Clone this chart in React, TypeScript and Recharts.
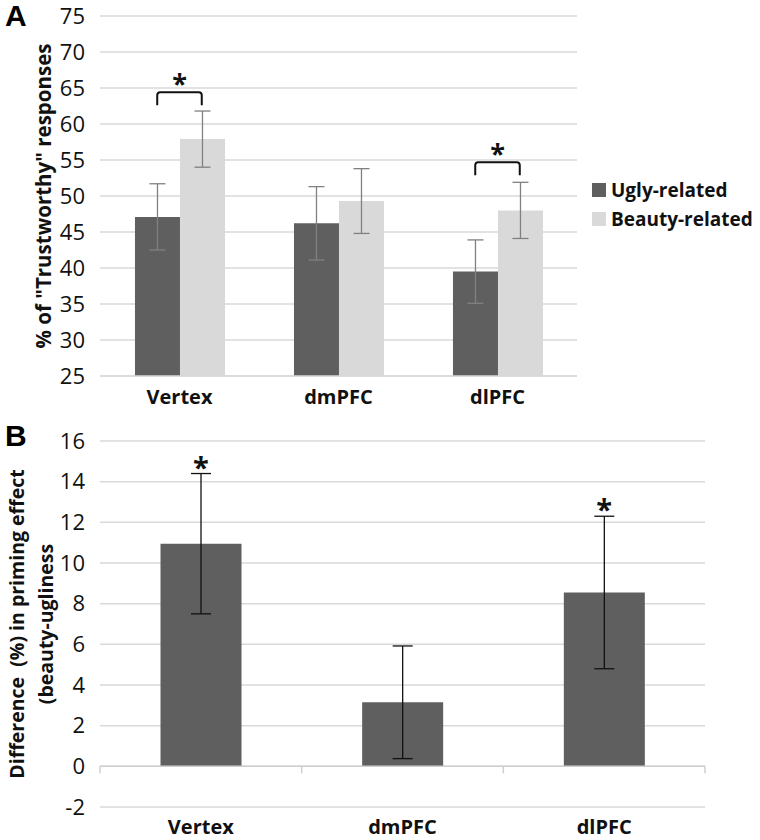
import React from 'react';
import {
  BarChart,
  Bar,
  XAxis,
  YAxis,
  CartesianGrid,
  ErrorBar,
  ReferenceDot,
  ReferenceLine,
} from 'recharts';

// values
const categories = ['Vertex', 'dmPFC', 'dlPFC'];
const uglyValues = [47.1, 46.2, 39.5];
const uglyErrors = [4.6, 5.1, 4.4];
const beautyValues = [57.9, 49.3, 48.0];
const beautyErrors = [3.9, 4.5, 3.9];
const diffValues = [10.95, 3.15, 8.55];
const diffErrors = [3.45, 2.77, 3.75];

const ticksA = [25, 30, 35, 40, 45, 50, 55, 60, 65, 70, 75];
const ticksB = [-2, 0, 2, 4, 6, 8, 10, 12, 14, 16];

const seriesNames = ['Ugly-related', 'Beauty-related'];

// significance marks
const bracketCats = ['Vertex', 'dlPFC'];
const bracketTops = [64.4, 54.7];
const starCats = ['Vertex', 'dlPFC'];

const DARK = '#5f5f5f';
const LIGHT = '#d9d9d9';
const GRID = '#d9d9d9';
const FONT = '"Open Sans", sans-serif';

const W = 760;
const H = 420;
const marginA = { top: 16, right: 183, left: 40, bottom: 14 };
const marginB = { top: 21, right: 55, left: 40, bottom: 3 };
const GAP_A = 0.22;
const bandA = (W - marginA.left - 60 - marginA.right) / categories.length;
const barWA = (bandA * (1 - 2 * GAP_A)) / 2;

const dataA = categories.map((c, i) => ({
  name: c,
  ugly: uglyValues[i],
  uglyErr: uglyErrors[i],
  beauty: beautyValues[i],
  beautyErr: beautyErrors[i],
}));

const dataB = categories.map((c, i) => ({
  name: c,
  diff: diffValues[i],
  diffErr: diffErrors[i],
}));

const tickStyle = { fontFamily: FONT, fontSize: 22, fill: '#111' };
const catTickStyle = { fontFamily: FONT, fontSize: 20, fontWeight: 700, fill: '#111' };

function yTitle(lines: string[], xs: number[], size: number) {
  return (props: any) => {
    const vb = props.viewBox || {};
    const cy = vb.y + vb.height / 2;
    return (
      <g>
        {lines.map((t, i) => (
          <text
            key={t}
            x={xs[i]}
            y={cy}
            transform={`rotate(-90 ${xs[i]} ${cy})`}
            textAnchor="middle"
            dominantBaseline="central"
            fontFamily={FONT}
            fontSize={size}
            fontWeight={700}
            fill="#111"
            style={{ whiteSpace: 'pre' }}
          >
            {t}
          </text>
        ))}
      </g>
    );
  };
}

function Bracket(props: any) {
  const { cx, cy } = props;
  const x1 = cx - barWA / 2;
  const x2 = cx + barWA / 2;
  const drop = 13;
  return (
    <g>
      <path
        d={`M${x1},${cy + drop} L${x1},${cy + 3} Q${x1},${cy} ${x1 + 3},${cy} L${x2 - 3},${cy} Q${x2},${cy} ${x2},${cy + 3} L${x2},${cy + drop}`}
        fill="none"
        stroke="#111"
        strokeWidth={2}
      />
      <text x={cx} y={cy + 1} textAnchor="middle" fontFamily={FONT} fontSize={27} fontWeight={700} fill="#111">
        *
      </text>
    </g>
  );
}

function Star(props: any) {
  const { cx, cy } = props;
  return (
    <text x={cx} y={cy + 4} textAnchor="middle" fontFamily={FONT} fontSize={29} fontWeight={700} fill="#111">
      *
    </text>
  );
}

function ZeroAxis(props: any) {
  const { x1, x2, y1 } = props;
  const marks = categories.map((_, i) => x1 + (i * (x2 - x1)) / categories.length).concat([x2]);
  return (
    <g>
      <line x1={x1} x2={x2} y1={y1} y2={y1} stroke="#cfcfcf" strokeWidth={1.5} />
      {marks.map((x, i) => (
        <line key={i} x1={x} x2={x} y1={y1} y2={y1 + 7} stroke="#cfcfcf" strokeWidth={1.5} />
      ))}
    </g>
  );
}

function LegendA() {
  const colors = [DARK, LIGHT];
  return (
    <div style={{ position: 'absolute', left: 592, top: 175, fontFamily: FONT }}>
      {seriesNames.map((label, i) => (
        <div key={label} style={{ display: 'flex', alignItems: 'center', height: 29 }}>
          <span style={{ width: 14, height: 14, background: colors[i], marginRight: 5, display: 'inline-block' }} />
          <span style={{ fontSize: 19, fontWeight: 700, color: '#111' }}>{label}</span>
        </div>
      ))}
    </div>
  );
}

const panelLetter = {
  position: 'absolute' as const,
  left: 5,
  fontFamily: 'Arial, "Liberation Sans", sans-serif',
  fontWeight: 700,
  fontSize: 30,
  lineHeight: 1,
};

export default function App() {
  return (
    <div style={{ position: 'absolute', left: 0, top: 0, width: W, height: 840, background: '#fff' }}>
      <div style={{ position: 'absolute', left: 0, top: 0 }}>
        <BarChart width={W} height={H} data={dataA} margin={marginA} barGap={0} barCategoryGap={`${GAP_A * 100}%`}>
          <CartesianGrid vertical={false} stroke={GRID} strokeWidth={1.5} />
          <XAxis
            dataKey="name"
            height={30}
            axisLine={{ stroke: GRID, strokeWidth: 1.5 }}
            tickLine={false}
            tickSize={0}
            tickMargin={14}
            tick={catTickStyle}
          />
          <YAxis
            width={60}
            domain={[25, 75]}
            ticks={ticksA}
            interval={0}
            axisLine={false}
            tickLine={false}
            tickSize={0}
            tickMargin={15}
            tick={tickStyle}
            label={yTitle(['% of "Trustworthy" responses'], [43], 20.5)}
          />
          <Bar dataKey="ugly" name={seriesNames[0]} fill={DARK} isAnimationActive={false}>
            <ErrorBar dataKey="uglyErr" width={8} stroke="#808080" strokeWidth={1.3} />
          </Bar>
          <Bar dataKey="beauty" name={seriesNames[1]} fill={LIGHT} isAnimationActive={false}>
            <ErrorBar dataKey="beautyErr" width={8} stroke="#808080" strokeWidth={1.3} />
          </Bar>
          {bracketCats.map((c, i) => (
            <ReferenceDot key={c} x={c} y={bracketTops[i]} r={0} shape={(p: any) => <Bracket {...p} />} />
          ))}
        </BarChart>
      </div>
      <LegendA />

      <div style={{ position: 'absolute', left: 0, top: 420 }}>
        <BarChart width={W} height={H} data={dataB} margin={marginB} barCategoryGap="30%">
          <CartesianGrid vertical={false} stroke={GRID} strokeWidth={1.5} />
          <XAxis
            dataKey="name"
            height={30}
            axisLine={false}
            tickLine={false}
            tickSize={0}
            tickMargin={13}
            tick={catTickStyle}
          />
          <YAxis
            width={60}
            domain={[-2, 16]}
            ticks={ticksB}
            interval={0}
            axisLine={false}
            tickLine={false}
            tickSize={0}
            tickMargin={15}
            tick={tickStyle}
            label={yTitle(['Difference  (%) in priming effect', '(beauty-ugliness'], [16, 45], 19.5)}
          />
          <Bar dataKey="diff" fill={DARK} isAnimationActive={false}>
            <ErrorBar dataKey="diffErr" width={10} stroke="#111" strokeWidth={1.3} />
          </Bar>
          <ReferenceLine y={0} shape={(p: any) => <ZeroAxis {...p} />} />
          {starCats.map((c) => {
            const i = categories.indexOf(c);
            return (
              <ReferenceDot key={c} x={c} y={diffValues[i] + diffErrors[i]} r={0} shape={(p: any) => <Star {...p} />} />
            );
          })}
        </BarChart>
      </div>

      <div style={{ ...panelLetter, top: 1 }}>A</div>
      <div style={{ ...panelLetter, top: 421 }}>B</div>
    </div>
  );
}
